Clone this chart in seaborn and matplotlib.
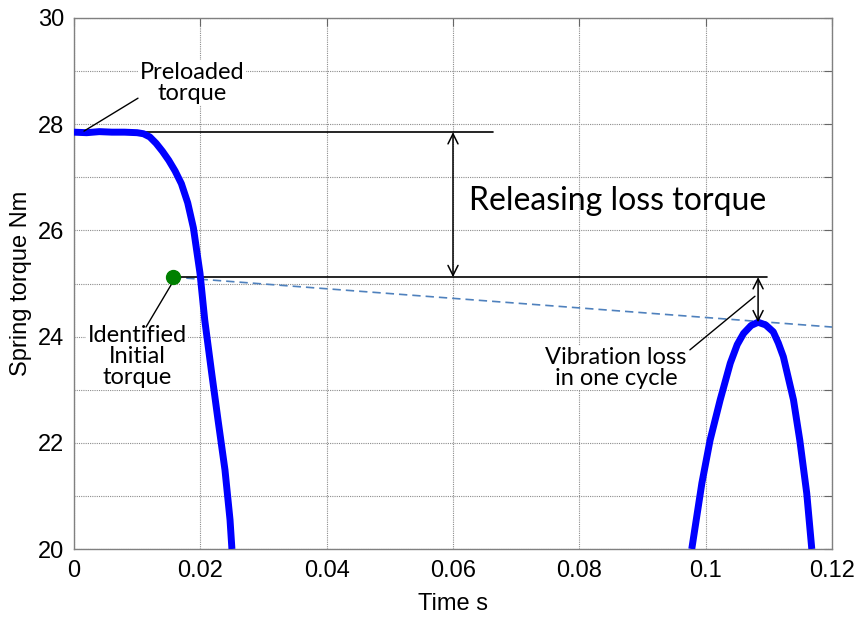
import numpy as np
import pandas as pd
import matplotlib
matplotlib.use("Agg")
import matplotlib.pyplot as plt
import seaborn as sns

# Spring torque during the release (first fall) and the first rebound peak
t_release = [0.0, 0.002, 0.004, 0.006, 0.008, 0.010, 0.011, 0.012, 0.013, 0.014,
             0.015, 0.016, 0.017, 0.018, 0.0189, 0.01995, 0.0207, 0.0218, 0.0228,
             0.0239, 0.0247, 0.0250]
tq_release = [27.85, 27.84, 27.86, 27.85, 27.85, 27.84, 27.82, 27.76, 27.64, 27.49,
              27.32, 27.12, 26.88, 26.52, 26.05, 25.19, 24.31, 23.31, 22.43,
              21.49, 20.55, 20.0]

t_rebound = [0.0978, 0.0994, 0.1007, 0.1023, 0.1039, 0.1050, 0.1060, 0.1072, 0.1083,
             0.1095, 0.1107, 0.1115, 0.1123, 0.1139, 0.1149, 0.1160, 0.1168]
tq_rebound = [20.0, 21.24, 22.05, 22.81, 23.50, 23.85, 24.06, 24.21, 24.27,
              24.22, 24.09, 23.88, 23.62, 22.81, 22.05, 21.05, 20.0]

# Reference levels
preload_torque = 27.85
initial_t = 0.01567
initial_torque = 25.12
peak_t = 0.1083
peak_torque = 24.27
decay_end_t = 0.12
decay_end_torque = 24.18

x_ticks = [0, 0.02, 0.04, 0.06, 0.08, 0.1, 0.12]
x_tick_labels = ["0", "0.02", "0.04", "0.06", "0.08", "0.1", "0.12"]
y_ticks = list(range(20, 31))
y_tick_labels = [str(v) if v % 2 == 0 else "" for v in y_ticks]

sns.set_theme(style="white")
plt.rcParams["font.family"] = ["Liberation Sans", "DejaVu Sans"]
plt.rcParams["text.color"] = "black"
plt.rcParams["axes.labelcolor"] = "black"

fig = plt.figure(figsize=(8.58, 6.18), dpi=100)
ax = fig.add_axes([74 / 858, 69 / 618, 758 / 858, 531 / 618])

release = pd.DataFrame({"t": t_release, "torque": tq_release})
rebound = pd.DataFrame({"t": t_rebound, "torque": tq_rebound})
sns.lineplot(data=release, x="t", y="torque", ax=ax, color="#0000ff", lw=5,
             sort=False, estimator=None, zorder=4, solid_capstyle="butt")
sns.lineplot(data=rebound, x="t", y="torque", ax=ax, color="#0000ff", lw=5,
             sort=False, estimator=None, zorder=4, solid_capstyle="butt")

# Decay line through the identified initial torque and the rebound peak
decay = pd.DataFrame({"t": [initial_t, decay_end_t],
                      "torque": [initial_torque, decay_end_torque]})
sns.lineplot(data=decay, x="t", y="torque", ax=ax, color="#4f81bd", lw=1.2,
             linestyle=(0, (5, 3)), zorder=3)

# Horizontal reference levels
ax.plot([0, 0.0663], [preload_torque, preload_torque], color="black", lw=1.2, zorder=3)
ax.plot([initial_t, 0.1097], [initial_torque, initial_torque], color="black", lw=1.2, zorder=3)

ax.plot([initial_t], [initial_torque], "o", color="#008000", ms=10, zorder=6)

# Double arrows
ax.annotate("", xy=(0.06, initial_torque), xytext=(0.06, preload_torque),
            arrowprops=dict(arrowstyle="<->", color="black", lw=1.1,
                            shrinkA=0, shrinkB=0, mutation_scale=18), zorder=5)
ax.annotate("", xy=(peak_t, peak_torque), xytext=(peak_t, initial_torque),
            arrowprops=dict(arrowstyle="<->", color="black", lw=1.1,
                            shrinkA=0, shrinkB=0, mutation_scale=18), zorder=5)

# Leader lines
ax.plot([0.01013, 0.00158], [28.49, 27.87], color="black", lw=1.0, zorder=5)
ax.plot([0.0114, 0.0160], [24.18, 25.10], color="black", lw=1.0, zorder=5)
ax.plot([0.0975, 0.1078], [23.75, 24.76], color="black", lw=1.0, zorder=5)

note_font = ["Lato", "DejaVu Sans"]
box = dict(facecolor="white", edgecolor="none", pad=1.0)
ax.text(0.01868, 28.78, "Preloaded\ntorque", ha="center", va="center", fontsize=17,
        family=note_font, linespacing=1.0, bbox=box, zorder=4, color="black")
ax.text(0.0860, 26.55, "Releasing loss torque", ha="center", va="center", fontsize=23,
        family=note_font, zorder=4, color="black")
ax.text(0.00997, 23.62, "Identified\nInitial\ntorque", ha="center", va="center",
        fontsize=17, family=note_font, linespacing=1.0, bbox=box, zorder=4, color="black")
ax.text(0.0858, 23.41, "Vibration loss\nin one cycle", ha="center", va="center",
        fontsize=17, family=note_font, linespacing=1.0, bbox=box, zorder=4, color="black")

ax.set_xlim(0, 0.12)
ax.set_ylim(20, 30)
ax.set_xticks(x_ticks)
ax.set_xticklabels(x_tick_labels)
ax.set_yticks(y_ticks)
ax.set_yticklabels(y_tick_labels)
ax.grid(True, color="#8c8c8c", linestyle=(0, (1, 1)), lw=0.8, zorder=0)
ax.set_axisbelow(True)

ax.tick_params(axis="both", direction="in", length=6, width=0.8, color="#666666",
               top=True, right=True, labelsize=17, labelcolor="black")
ax.tick_params(axis="x", pad=8)
ax.tick_params(axis="y", pad=7)
for s in ax.spines.values():
    s.set_color("#808080")
    s.set_linewidth(1.0)

ax.set_xlabel("Time s", fontsize=17, labelpad=8)
ax.set_ylabel("Spring torque Nm", fontsize=17, labelpad=4)

fig.savefig("out.png", dpi=100, facecolor="white")
